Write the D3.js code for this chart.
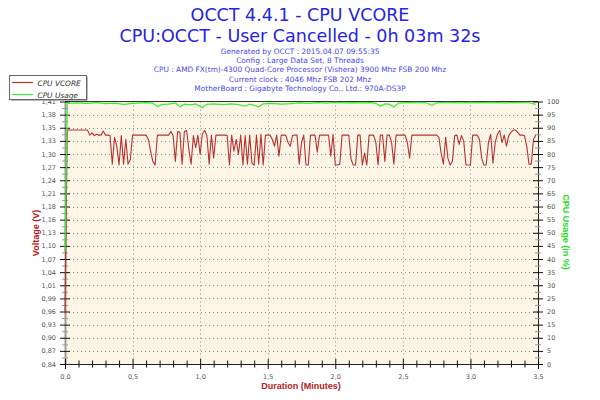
<!DOCTYPE html>
<html><head><meta charset="utf-8">
<script src="https://cdn.jsdelivr.net/npm/d3@7"></script>
<style>html,body{margin:0;padding:0;background:#fff}</style>
</head><body>
<svg id="chart" width="600" height="400"></svg>
<script>
// ---------- data ----------
const titleLines = ["OCCT 4.4.1 - CPU VCORE", "CPU:OCCT - User Cancelled - 0h 03m 32s"];
const infoLines = [
  "Generated by OCCT : 2015.04.07 09:55:35",
  "Config : Large Data Set, 8 Threads",
  "CPU : AMD FX(tm)-4300 Quad-Core Processor (Vishera) 3900 Mhz FSB 200 Mhz",
  "Current clock : 4046 Mhz FSB 202 Mhz",
  "MotherBoard : Gigabyte Technology Co., Ltd.: 970A-DS3P"
];
const seriesNames = ["CPU VCORE", "CPU Usage"];
const voltTickLabels = ["0,84","0,87","0,90","0,93","0,96","0,99","1,01","1,04","1,07","1,10","1,13",
  "1,16","1,18","1,21","1,24","1,27","1,30","1,33","1,35","1,38","1,41"];
const voltRange = [0.84, 1.41];
const usageTicks = [0,5,10,15,20,25,30,35,40,45,50,55,60,65,70,75,80,85,90,95,100];
const durationTicks = [0,0.5,1,1.5,2,2.5,3,3.5];
const durationTickLabels = ["0,0","0,5","1,0","1,5","2,0","2,5","3,0","3,5"];
// CPU VCORE, one sample per second (V)
const vcore = [
  0.95,1.348,1.348,1.348,1.348,1.348,1.348,1.348,1.348,1.348,
  1.348,1.337,1.342,1.336,1.339,1.337,1.337,1.346,1.337,1.337,
  1.336,1.274,1.332,1.313,1.272,1.336,1.274,1.328,1.274,1.284,
  1.337,1.337,1.337,1.337,1.337,1.337,1.337,1.328,1.302,1.280,
  1.272,1.337,1.337,1.337,1.337,1.337,1.337,1.345,1.336,1.280,
  1.345,1.343,1.274,1.345,1.347,1.306,1.274,1.336,1.310,1.337,
  1.295,1.340,1.347,1.336,1.274,1.337,1.287,1.337,1.337,1.337,
  1.337,1.337,1.336,1.272,1.337,1.302,1.328,1.295,1.337,1.272,
  1.336,1.274,1.337,1.276,1.272,1.337,1.274,1.339,1.272,1.337,
  1.337,1.337,1.328,1.313,1.337,1.291,1.337,1.337,1.337,1.321,
  1.313,1.336,1.337,1.337,1.274,1.321,1.337,1.272,1.272,1.337,
  1.337,1.337,1.300,1.337,1.337,1.337,1.337,1.337,1.291,1.339,
  1.272,1.272,1.274,1.337,1.337,1.337,1.337,1.284,1.272,1.272,
  1.337,1.337,1.272,1.298,1.272,1.337,1.337,1.337,1.321,1.272,
  1.337,1.337,1.280,1.337,1.337,1.321,1.274,1.337,1.337,1.337,
  1.337,1.337,1.321,1.287,1.337,1.337,1.337,1.337,1.337,1.337,
  1.337,1.337,1.337,1.337,1.337,1.337,1.332,1.298,1.274,1.332,
  1.287,1.272,1.280,1.336,1.337,1.317,1.336,1.325,1.272,1.272,
  1.272,1.337,1.337,1.337,1.328,1.287,1.272,1.272,1.321,1.339,
  1.276,1.321,1.339,1.347,1.321,1.337,1.313,1.336,1.343,1.348,
  1.348,1.343,1.337,1.337,1.336,1.313,1.274,1.274,1.328,1.337
];
// CPU usage (%) at the given seconds
const usageSeconds = [0,1,5,10,14,18,22,26,30,36,39,41,43,46,49,51,53,56,58,61,63,66,70,74,77,80,82,86,88,92,96,100,
  104,108,112,116,120,124,128,132,136,138,140,142,144,146,148,152,156,160,163,165,170,175,180,185,190,195,200,205,209];
const usageValues = [43,99.3,99.5,99.3,99.6,99.2,99.4,98.9,99.3,99.6,99.4,98.0,98.9,99.0,99.5,98.0,99.0,98.7,99.1,97.6,
  98.9,99.1,98.8,99.1,98.8,98.2,99.0,98.0,99.1,99.3,99.0,99.2,99.5,99.3,99.6,99.4,99.7,99.5,99.6,99.5,99.6,99.3,98.2,
  99.1,99.0,97.9,99.4,99.6,99.7,99.6,98.5,99.5,99.7,99.5,99.7,99.6,99.7,99.5,99.6,99.7,98.9];

// ---------- drawing ----------
const svg = d3.select("#chart");
const P = {left:65, right:538, top:101.5, bottom:364};
const x = d3.scaleLinear().domain([0, 3.5]).range([P.left, P.right]);
const yV = d3.scaleLinear().domain(voltRange).range([P.bottom, P.top]);
const yU = d3.scaleLinear().domain([0, 100]).range([P.bottom, P.top]);
const voltTickVals = voltTickLabels.map((_, i) => voltRange[0] + i * (voltRange[1] - voltRange[0]) / (voltTickLabels.length - 1));

svg.append("rect").attr("width", 600).attr("height", 400).attr("fill", "#fff");

// titles
const titleFont = "'DejaVu Sans', Verdana, sans-serif";
svg.selectAll("text.title").data(titleLines).join("text")
  .attr("class", "title").attr("x", 300).attr("y", (d, i) => 21 + i * 21)
  .attr("text-anchor", "middle").attr("font-family", titleFont).attr("font-size", 17.5)
  .attr("fill", "#2424E2").text(d => d);
svg.selectAll("text.info").data(infoLines).join("text")
  .attr("class", "info").attr("x", 300).attr("y", (d, i) => 54 + i * 9.2)
  .attr("text-anchor", "middle").attr("font-family", titleFont).attr("font-size", 7.4)
  .attr("fill", "#4A4AE6").text(d => d);

// plot background
svg.append("rect").attr("x", P.left).attr("y", P.top).attr("width", P.right - P.left)
  .attr("height", P.bottom - P.top).attr("fill", "#FDF6E6");

// grid
const grid = svg.append("g").attr("stroke", "#8a8a8a").attr("stroke-width", 1).attr("stroke-dasharray", "1,3");
grid.selectAll("line.h").data(usageTicks.slice(1, -1)).join("line")
  .attr("x1", P.left).attr("x2", P.right)
  .attr("y1", d => Math.round(yU(d)) + 0.5).attr("y2", d => Math.round(yU(d)) + 0.5);
grid.selectAll("line.v").data(durationTicks.slice(1, -1)).join("line")
  .attr("y1", P.top).attr("y2", P.bottom)
  .attr("x1", d => Math.round(x(d)) + 0.5).attr("x2", d => Math.round(x(d)) + 0.5);

// top frame
svg.append("line").attr("x1", P.left).attr("x2", P.right).attr("y1", P.top).attr("y2", P.top)
  .attr("stroke", "#333").attr("stroke-width", 1);

const tickFont = "'DejaVu Sans', Verdana, sans-serif";
function styleAxis(g, col) {
  g.selectAll("text").attr("font-family", tickFont).attr("font-size", 6.5).attr("fill", "#555");
  g.selectAll(".tick line").attr("stroke", col || "#111");
}
const halfV = voltTickVals.slice(0, -1).map((d, i) => (d + voltTickVals[i + 1]) / 2);
const halfU = usageTicks.slice(0, -1).map((d, i) => (d + usageTicks[i + 1]) / 2);
const minorX = d3.range(0, 36).map(i => i / 10).filter(d => durationTicks.indexOf(d) < 0);

// left axis (voltage)
const gL = svg.append("g").attr("transform", `translate(${P.left},0)`);
gL.call(d3.axisLeft(yV).tickValues(voltTickVals).tickFormat((d, i) => voltTickLabels[i]).tickSizeInner(5).tickSizeOuter(0).tickPadding(4));
gL.select(".domain").attr("stroke", "#999").attr("stroke-width", 2);
styleAxis(gL);
const gL2 = svg.append("g").attr("transform", `translate(${P.left},0)`);
gL2.call(d3.axisLeft(yV).tickValues(voltTickVals).tickFormat("").tickSizeInner(-5).tickSizeOuter(0));
gL2.select(".domain").remove(); styleAxis(gL2);
const gL3 = svg.append("g").attr("transform", `translate(${P.left + 3},0)`);
gL3.call(d3.axisLeft(yV).tickValues(halfV).tickFormat("").tickSizeInner(6).tickSizeOuter(0));
gL3.select(".domain").remove(); styleAxis(gL3, "#999");

// right axis (usage)
const gR = svg.append("g").attr("transform", `translate(${P.right},0)`);
gR.call(d3.axisRight(yU).tickValues(usageTicks).tickSizeInner(5).tickSizeOuter(0).tickPadding(4));
gR.select(".domain").attr("stroke", "#222");
styleAxis(gR);
const gR2 = svg.append("g").attr("transform", `translate(${P.right},0)`);
gR2.call(d3.axisRight(yU).tickValues(usageTicks).tickFormat("").tickSizeInner(-5).tickSizeOuter(0));
gR2.select(".domain").remove(); styleAxis(gR2);
const gR3 = svg.append("g").attr("transform", `translate(${P.right - 3},0)`);
gR3.call(d3.axisRight(yU).tickValues(halfU).tickFormat("").tickSizeInner(6).tickSizeOuter(0));
gR3.select(".domain").remove(); styleAxis(gR3, "#999");

// bottom axis (duration)
const gB = svg.append("g").attr("transform", `translate(0,${P.bottom})`);
gB.call(d3.axisBottom(x).tickValues(durationTicks).tickFormat((d, i) => durationTickLabels[i]).tickSizeInner(5).tickSizeOuter(0).tickPadding(5));
gB.select(".domain").attr("stroke", "#222");
styleAxis(gB);
const gB2 = svg.append("g").attr("transform", `translate(0,${P.bottom})`);
gB2.call(d3.axisBottom(x).tickValues(durationTicks).tickFormat("").tickSizeInner(-5).tickSizeOuter(0));
gB2.select(".domain").remove(); styleAxis(gB2);
const gB3 = svg.append("g").attr("transform", `translate(0,${P.bottom - 3.5})`);
gB3.call(d3.axisBottom(x).tickValues(minorX).tickFormat("").tickSizeInner(7).tickSizeOuter(0));
gB3.select(".domain").remove(); styleAxis(gB3);

// series
const lineV = d3.line().x((d, i) => x(i / 60)).y(d => yV(d));
svg.append("path").datum(vcore).attr("d", lineV).attr("fill", "none")
  .attr("stroke", "#B83030").attr("stroke-width", 1.1).attr("stroke-linejoin", "round");
const lineU = d3.line().x(d => x(d[0] / 60)).y(d => yU(d[1]));
svg.append("path").datum(usageSeconds.map((s, i) => [s, usageValues[i]])).attr("d", lineU).attr("fill", "none")
  .attr("stroke", "#33EE33").attr("stroke-width", 1.2);

// axis titles
const axFont = "'Liberation Sans', Arial, sans-serif";
svg.append("text").attr("x", 301).attr("y", 389).attr("text-anchor", "middle")
  .attr("font-family", axFont).attr("font-weight", "bold").attr("font-size", 9)
  .attr("fill", "#B22222").text("Duration (Minutes)");
svg.append("text").attr("transform", "translate(39,233) rotate(-90)").attr("text-anchor", "middle")
  .attr("font-family", axFont).attr("font-weight", "bold").attr("font-size", 9)
  .attr("fill", "#B22222").text("Voltage (V)");
svg.append("text").attr("transform", "translate(563,232) rotate(90)").attr("text-anchor", "middle")
  .attr("font-family", axFont).attr("font-weight", "bold").attr("font-size", 9)
  .attr("fill", "#22DD22").text("CPU Usage (in %)");

// legend
const lg = svg.append("g");
lg.append("rect").attr("x", 10.5).attr("y", 76.5).attr("width", 77).attr("height", 24).attr("fill", "#777");
lg.append("rect").attr("x", 9.5).attr("y", 75.5).attr("width", 77).attr("height", 24)
  .attr("fill", "#fff").attr("stroke", "#666");
const legColors = ["#B83030", "#33EE33"];
seriesNames.forEach((n, i) => {
  lg.append("line").attr("x1", 12).attr("x2", 33).attr("y1", 82.5 + i * 12).attr("y2", 82.5 + i * 12)
    .attr("stroke", legColors[i]).attr("stroke-width", 1.2);
  lg.append("text").attr("x", 37.5).attr("y", 85.5 + i * 12).attr("font-family", titleFont)
    .attr("font-style", "italic").attr("font-size", 7.4).attr("fill", "#333").text(n);
});
</script>
</body></html>
